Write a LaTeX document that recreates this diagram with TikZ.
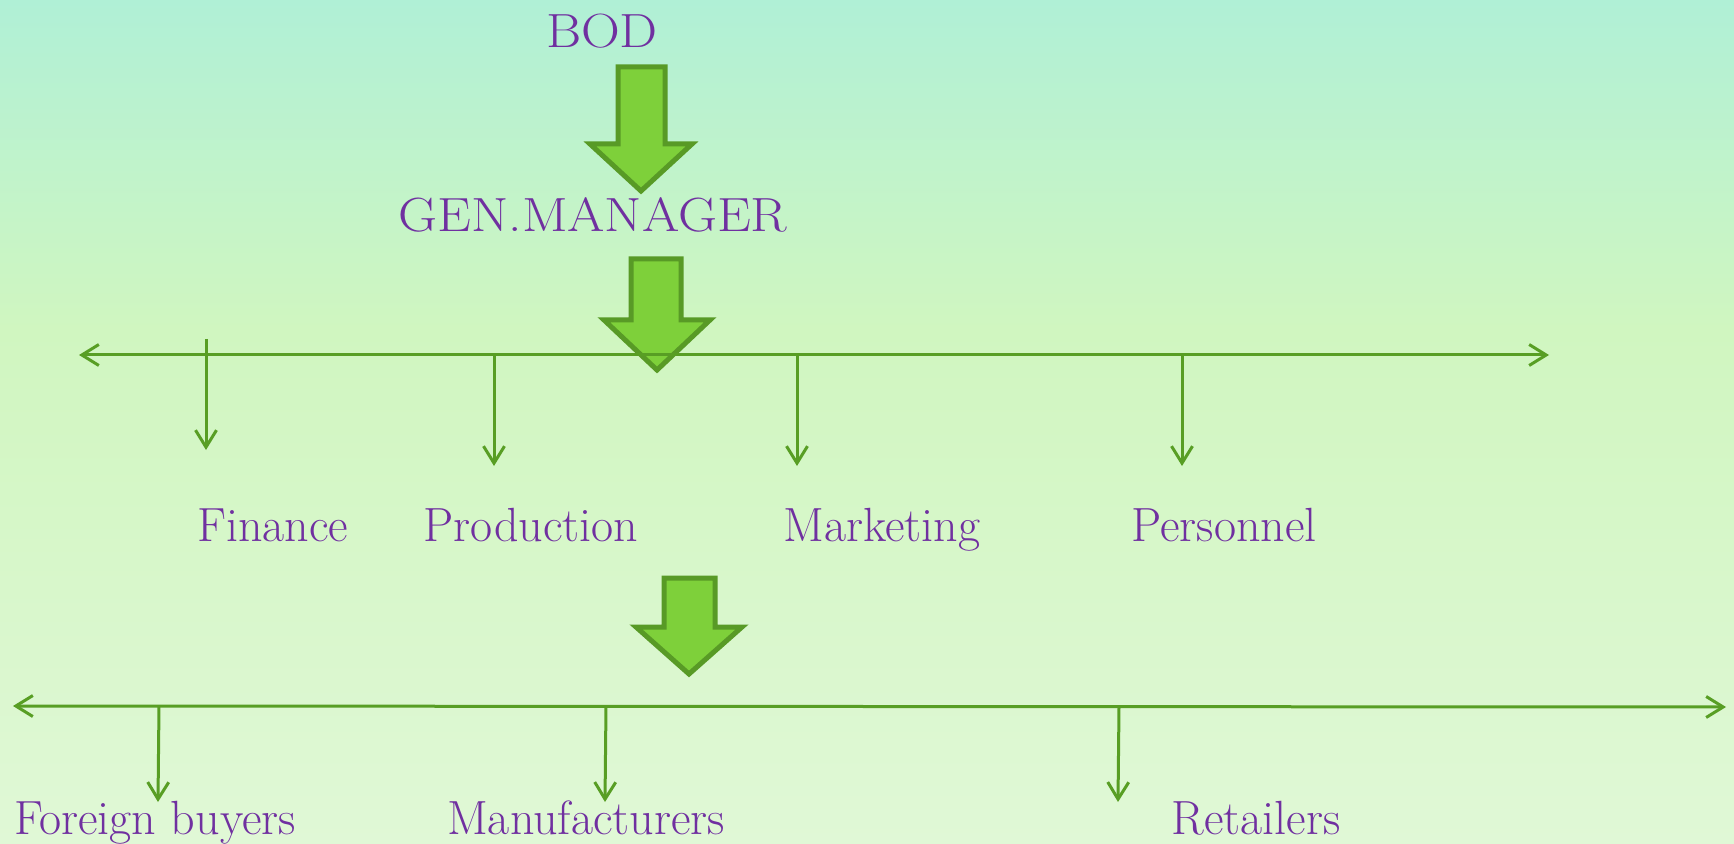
\documentclass[tikz,border=0pt]{standalone}
\usetikzlibrary{arrows.meta}
\definecolor{txtpurple}{RGB}{112,48,160}
\definecolor{arrfill}{RGB}{126,208,58}
\definecolor{arrdraw}{RGB}{88,154,38}
\definecolor{linegreen}{RGB}{88,158,36}
\definecolor{bgtop}{RGB}{176,240,214}
\definecolor{bgmid}{RGB}{208,246,192}
\definecolor{bgbot}{RGB}{224,248,214}
\begin{document}
\begin{tikzpicture}[x=0.5pt,y=-0.5pt,
  lbl/.style={text=txtpurple,font=\fontsize{24}{28}\selectfont,inner sep=0pt,anchor=base},
  wide/.style={xscale=1.12,transform shape},
  bigarrow/.style={fill=arrfill,draw=arrdraw,line width=2.5pt,line join=miter},
  thin/.style={draw=linegreen,line width=1.5pt,-{Straight Barb[length=8.5pt,width=10.5pt,line width=1.5pt]}},
  thinboth/.style={draw=linegreen,line width=1.5pt,{Straight Barb[length=8.5pt,width=10.5pt,line width=1.5pt]}-{Straight Barb[length=8.5pt,width=10.5pt,line width=1.5pt]}}]
\useasboundingbox (0,0) rectangle (1734,844);
\shade[top color=bgtop,bottom color=bgmid] (0,0) rectangle (1734,330);
\shade[top color=bgmid,bottom color=bgbot] (0,329.5) rectangle (1734,844);

% labels
\node[lbl,wide] (bod) at (602,48) {BOD};
\node[lbl,wide] (gm) at (593,232) {GEN.MANAGER};
\node[lbl] (fin) at (273,541) {Finance};
\node[lbl] (prod) at (531,541) {Production};
\node[lbl] (mkt) at (882,541) {Marketing};
\node[lbl] (pers) at (1224,541) {Personnel};
\node[lbl] (fb) at (155,834) {Foreign buyers};
\node[lbl] (man) at (586,834) {Manufacturers};
\node[lbl] (ret) at (1256,834) {Retailers};

% big arrows
\draw[bigarrow] (618,67) -- (665,67) -- (665,144) -- (692,144) -- (641,191) -- (590,144) -- (618,144) -- cycle;
\draw[bigarrow] (631,259) -- (681,259) -- (681,320) -- (710,320) -- (657,370) -- (604,320) -- (631,320) -- cycle;
\draw[bigarrow] (664,578) -- (715,578) -- (715,627) -- (742,627) -- (689,674) -- (636,627) -- (664,627) -- cycle;

% level 1 line
\coordinate (l1) at (79,355);
\coordinate (r1) at (1549,355);
\draw[thinboth] (l1) -- (r1);
\coordinate (finT) at (206,339); \coordinate (finB) at (206,450);
\coordinate (prodT) at (494,355); \coordinate (prodB) at (494,466);
\coordinate (mktT) at (797,355); \coordinate (mktB) at (797,466);
\coordinate (persT) at (1182,355); \coordinate (persB) at (1182,466);
\draw[thin] (finT) -- (finB);
\draw[thin] (prodT) -- (prodB);
\draw[thin] (mktT) -- (mktB);
\draw[thin] (persT) -- (persB);

% level 2 line
\coordinate (l2) at (13,706);
\coordinate (r2) at (1726,707);
\draw[thinboth] (l2) -- (r2);
\coordinate (fbT) at (159,706); \coordinate (fbB) at (158,802);
\coordinate (manT) at (606,706); \coordinate (manB) at (605,802);
\coordinate (retT) at (1119,707); \coordinate (retB) at (1118,802);
\draw[thin] (fbT) -- (fbB);
\draw[thin] (manT) -- (manB);
\draw[thin] (retT) -- (retB);
\end{tikzpicture}
\end{document}
